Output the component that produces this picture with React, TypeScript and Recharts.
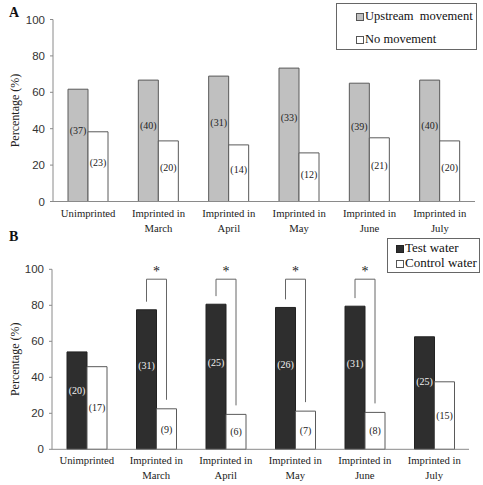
import React from 'react';
import { BarChart, Bar, XAxis, YAxis, Legend, LabelList } from 'recharts';

const categories = [
  'Unimprinted',
  'Imprinted in March',
  'Imprinted in April',
  'Imprinted in May',
  'Imprinted in June',
  'Imprinted in July',
];
// Panel A
const upstreamPct = [61.7, 66.7, 68.9, 73.3, 65.0, 66.7];
const noMovePct = [38.3, 33.3, 31.1, 26.7, 35.0, 33.3];
const upstreamN = [37, 40, 31, 33, 39, 40];
const noMoveN = [23, 20, 14, 12, 21, 20];
// Panel B
const testPct = [54.1, 77.5, 80.6, 78.8, 79.5, 62.5];
const controlPct = [45.9, 22.5, 19.4, 21.2, 20.5, 37.5];
const testN = [20, 31, 25, 26, 31, 25];
const controlN = [17, 9, 6, 7, 8, 15];
const significant = [false, true, true, true, true, false];
const yTicks = [0, 20, 40, 60, 80, 100];

const dataA = categories.map((c, i) => ({ cat: c, up: upstreamPct[i], no: noMovePct[i], upN: upstreamN[i], noN: noMoveN[i] }));
const dataB = categories.map((c, i) => ({ cat: c, test: testPct[i], ctrl: controlPct[i], testN: testN[i], ctrlN: controlN[i] }));

const SERIF = '"Liberation Serif", "Times New Roman", serif';
const SANS = '"Liberation Sans", Arial, sans-serif';
const AXIS = '#8a8a8a';

const CatTick = (props: any) => {
  const { x, y, payload } = props;
  const label: string = payload.value;
  const lines = label.startsWith('Imprinted in ') ? ['Imprinted in', label.slice(13)] : [label];
  return (
    <text x={x} y={y} textAnchor="middle" fontFamily={SERIF} fontSize={10.7} fill="#222">
      {lines.map((l, i) => (
        <tspan key={i} x={x} dy={15}>{l}</tspan>
      ))}
    </text>
  );
};

const YTitle = (props: any) => {
  const vb = props.viewBox || {};
  const cx = (vb.x || 0) + 15;
  const cy = (vb.y || 0) + (vb.height || 0) / 2;
  return (
    <text x={cx} y={cy} transform={`rotate(-90, ${cx}, ${cy})`} textAnchor="middle" dominantBaseline="central" fontFamily={SERIF} fontSize={12} fill="#222">
      Percentage (%)
    </text>
  );
};

const makeCountLabel = (frac: number, color: string) => (props: any) => {
  const vb = props.viewBox || props;
  const { x, y, width, height } = vb;
  const cx = x + width / 2;
  const cy = y + height - height * frac;
  return (
    <text x={cx} y={cy} textAnchor="middle" dominantBaseline="central" fontFamily={SERIF} fontSize={10} fill={color}>
      ({props.value})
    </text>
  );
};

const Bracket = (props: any) => {
  const idx = typeof props.index === 'number' ? props.index : controlN.indexOf(props.value);
  if (idx < 0 || !significant[idx]) return null;
  const vb = props.viewBox || props;
  const { x, y, width, height } = vb;
  const base = y + height;
  const ppu = height / controlPct[idx];
  const toY = (v: number) => base - v * ppu;
  const lx = x - width / 2;
  const rx = x + width / 2;
  const top = toY(94.5);
  return (
    <g>
      <path d={`M${lx},${toY(testPct[idx] + 4.5)} L${lx},${top} L${rx},${top} L${rx},${toY(controlPct[idx] + 5)}`} fill="none" stroke="#666" strokeWidth={1} />
      <text x={(lx + rx) / 2} y={top - 3} textAnchor="middle" fontFamily={SERIF} fontSize={14} fill="#222">*</text>
    </g>
  );
};

const Swatch = ({ fill, stroke }: { fill: string; stroke: string }) => (
  <span style={{ display: 'inline-block', width: 6, height: 6, background: fill, border: `1px solid ${stroke}`, marginRight: 1, verticalAlign: 'middle' }} />
);

const LegendA = () => (
  <div style={{ position: 'relative', width: 141, height: 47, border: '1px solid #666', boxSizing: 'border-box', background: '#fff', fontFamily: SERIF, fontSize: 12.5, color: '#111' }}>
    <div style={{ position: 'absolute', left: 19, top: 4, whiteSpace: 'nowrap', lineHeight: '16px' }}>
      <Swatch fill="#c0c0c0" stroke="#555" />Upstream&nbsp; movement
    </div>
    <div style={{ position: 'absolute', left: 19, top: 27, whiteSpace: 'nowrap', lineHeight: '16px' }}>
      <Swatch fill="#fff" stroke="#555" />No movement
    </div>
  </div>
);

const LegendB = () => (
  <div style={{ position: 'relative', width: 93, height: 35, border: '1px solid #666', boxSizing: 'border-box', background: '#fff', fontFamily: SERIF, fontSize: 13, color: '#111' }}>
    <div style={{ position: 'absolute', left: 8, top: 1, whiteSpace: 'nowrap', lineHeight: '16px' }}>
      <Swatch fill="#2e2e2e" stroke="#222" />Test water
    </div>
    <div style={{ position: 'absolute', left: 8, top: 16, whiteSpace: 'nowrap', lineHeight: '16px' }}>
      <Swatch fill="#fff" stroke="#555" />Control water
    </div>
  </div>
);

const yAxisProps = {
  domain: [0, 100] as [number, number],
  ticks: yTicks,
  interval: 0 as const,
  tickSize: 3,
  tickMargin: 5,
  tick: { fontFamily: SANS, fontSize: 11.5, fill: '#333' },
  tickLine: { stroke: AXIS },
  axisLine: { stroke: AXIS },
};

export default function App() {
  return (
    <div style={{ position: 'absolute', left: 0, top: 0, width: 483, height: 485, background: '#fff' }}>
      <BarChart width={483} height={236} data={dataA} margin={{ top: 19.5, right: 8, left: 0, bottom: 0 }} barGap={0} barSize={20}>
        <XAxis dataKey="cat" interval={0} tickLine={false} tickSize={0} tickMargin={0} height={34.5} axisLine={{ stroke: AXIS }} tick={<CatTick />} />
        <YAxis width={53} {...yAxisProps} label={<YTitle />} />
        <Legend layout="horizontal" verticalAlign="middle" content={<LegendA />} wrapperStyle={{ position: 'absolute', left: 336, top: 3, width: 141 }} />
        <Bar dataKey="up" fill="#c0c0c0" stroke="#5a5a5a" strokeWidth={1} isAnimationActive={false}>
          <LabelList dataKey="upN" content={makeCountLabel(0.63, '#222')} />
        </Bar>
        <Bar dataKey="no" fill="#ffffff" stroke="#5a5a5a" strokeWidth={1} isAnimationActive={false}>
          <LabelList dataKey="noN" content={makeCountLabel(0.56, '#222')} />
        </Bar>
      </BarChart>
      <BarChart width={483} height={249} data={dataB} margin={{ top: 33.3, right: 14, left: 0, bottom: 0 }} barGap={0} barSize={20}>
        <XAxis dataKey="cat" interval={0} tickLine={false} tickSize={0} tickMargin={0} height={35.7} axisLine={{ stroke: AXIS }} tick={<CatTick />} />
        <YAxis width={52} {...yAxisProps} label={<YTitle />} />
        <Legend layout="horizontal" verticalAlign="middle" content={<LegendB />} wrapperStyle={{ position: 'absolute', left: 387, top: 2, width: 93 }} />
        <Bar dataKey="test" fill="#2e2e2e" stroke="#222" strokeWidth={1} isAnimationActive={false}>
          <LabelList dataKey="testN" content={makeCountLabel(0.6, '#f2f2f2')} />
        </Bar>
        <Bar dataKey="ctrl" fill="#ffffff" stroke="#5a5a5a" strokeWidth={1} isAnimationActive={false}>
          <LabelList dataKey="ctrlN" content={makeCountLabel(0.5, '#222')} />
          <LabelList dataKey="ctrlN" content={Bracket} />
        </Bar>
      </BarChart>
      <div style={{ position: 'absolute', left: 9, top: 5, fontFamily: SERIF, fontWeight: 'bold', fontSize: 14, color: '#111' }}>A</div>
      <div style={{ position: 'absolute', left: 9, top: 229, fontFamily: SERIF, fontWeight: 'bold', fontSize: 14, color: '#111' }}>B</div>
    </div>
  );
}
